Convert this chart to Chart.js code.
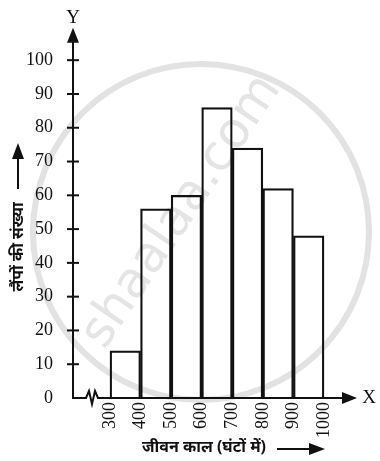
<!DOCTYPE html>
<html>
<head>
<meta charset="utf-8">
<script src="https://cdn.jsdelivr.net/npm/chart.js@4"></script>
<style>
  html, body { margin: 0; padding: 0; background: #ffffff; }
  #wrap { width: 380px; height: 461px; position: relative; }
</style>
</head>
<body>
<div id="wrap"><canvas id="c" width="380" height="461"></canvas></div>
<script>
// ---- data ----
const binEdges = [300, 400, 500, 600, 700, 800, 900, 1000];
const lampCounts = [14, 56, 60, 86, 74, 62, 48];
const xTickLabels = ['300', '400', '500', '600', '700', '800', '900', '1000'];
const yTickValues = [0, 10, 20, 30, 40, 50, 60, 70, 80, 90, 100];
const xAxisTitle = 'जीवन काल (घंटों में)';
const yAxisTitle = 'लैंपों की संख्या';
const watermarkText = 'shaalaa.com';

const barPoints = lampCounts.map((v, i) => ({ x: (binEdges[i] + binEdges[i + 1]) / 2, y: v }));

const SERIF = "'Liberation Serif', 'DejaVu Serif', serif";
const HINDI = "'Noto Sans', 'DejaVu Sans', sans-serif";

function arrowHead(ctx, tipX, tipY, dir, len, half) {
  ctx.beginPath();
  if (dir === 'up') {
    ctx.moveTo(tipX, tipY); ctx.lineTo(tipX - half, tipY + len); ctx.lineTo(tipX + half, tipY + len);
  } else {
    ctx.moveTo(tipX, tipY); ctx.lineTo(tipX - len, tipY - half); ctx.lineTo(tipX - len, tipY + half);
  }
  ctx.closePath();
  ctx.fill();
}

const decorPlugin = {
  id: 'decor',
  beforeDraw(chart) {
    const ctx = chart.ctx;
    ctx.save();
    // watermark
    ctx.strokeStyle = '#e2e2e2';
    ctx.lineWidth = 6;
    ctx.beginPath();
    ctx.arc(201, 232, 168, 0, Math.PI * 2);
    ctx.stroke();
    ctx.translate(182, 212);
    ctx.rotate(-56 * Math.PI / 180);
    ctx.fillStyle = '#e4e4e4';
    ctx.font = "50px 'DejaVu Sans', sans-serif";
    ctx.textAlign = 'center';
    ctx.textBaseline = 'middle';
    ctx.fillText(watermarkText, 0, 0);
    ctx.restore();
  },
  afterDatasetsDraw(chart) {
    const ctx = chart.ctx;
    const xs = chart.scales.x, ys = chart.scales.y;
    const ox = xs.left, oy = ys.getPixelForValue(0);
    const topY = ys.top, rightX = xs.right;
    ctx.save();
    ctx.strokeStyle = '#111';
    ctx.fillStyle = '#111';
    ctx.lineWidth = 2;
    // y axis
    ctx.beginPath();
    ctx.moveTo(ox, oy + 1);
    ctx.lineTo(ox, topY + 10);
    ctx.stroke();
    arrowHead(ctx, ox, topY - 3, 'up', 15, 6);
    // y ticks crossing axis
    yTickValues.forEach(v => {
      if (v === 0) return;
      const py = ys.getPixelForValue(v);
      ctx.beginPath();
      ctx.moveTo(ox - 6, py); ctx.lineTo(ox + 6, py);
      ctx.stroke();
    });
    // x axis with zigzag break
    ctx.beginPath();
    ctx.moveTo(ox - 1, oy);
    ctx.lineTo(ox + 13, oy);
    ctx.lineTo(ox + 16, oy - 7);
    ctx.lineTo(ox + 19, oy + 6);
    ctx.lineTo(ox + 22, oy - 7);
    ctx.lineTo(ox + 25, oy);
    ctx.lineTo(rightX - 10, oy);
    ctx.stroke();
    arrowHead(ctx, rightX, oy, 'right', 15, 6);
    // axis letters
    ctx.font = '19px ' + SERIF;
    ctx.textAlign = 'center';
    ctx.textBaseline = 'middle';
    ctx.fillText('Y', ox, topY - 13);
    ctx.fillText('X', rightX + 12, oy);
    // x title with arrow
    ctx.font = 'bold 16px ' + HINDI;
    ctx.textAlign = 'left';
    ctx.fillText(xAxisTitle, 142, 447);
    ctx.lineWidth = 2;
    ctx.beginPath(); ctx.moveTo(277, 449); ctx.lineTo(310, 449); ctx.stroke();
    arrowHead(ctx, 325, 449, 'right', 16, 6);
    // y title with arrow
    ctx.save();
    ctx.translate(18, 247);
    ctx.rotate(-Math.PI / 2);
    ctx.textAlign = 'center';
    ctx.fillText(yAxisTitle, 0, 0);
    ctx.restore();
    ctx.beginPath(); ctx.moveTo(18, 189); ctx.lineTo(18, 157); ctx.stroke();
    arrowHead(ctx, 18, 143, 'up', 16, 6);
    ctx.restore();
  }
};

new Chart(document.getElementById('c'), {
  type: 'bar',
  data: {
    datasets: [{
      data: barPoints,
      backgroundColor: 'rgba(255,255,255,0)',
      borderColor: '#111',
      borderWidth: 1.6,
      barPercentage: 1,
      categoryPercentage: 1
    }]
  },
  options: {
    responsive: false,
    animation: false,
    events: [],
    layout: { padding: { top: 25, right: 23, left: 0, bottom: 0 } },
    plugins: { legend: { display: false }, tooltip: { enabled: false }, title: { display: false } },
    scales: {
      x: {
        type: 'linear',
        offset: false,
        min: 179,
        max: 1108,
        border: { display: false },
        grid: { display: false, drawTicks: false },
        afterBuildTicks(scale) { scale.ticks = binEdges.map(v => ({ value: v })); },
        afterFit(scale) { scale.height = 63; },
        ticks: {
          autoSkip: false,
          minRotation: 90,
          maxRotation: 90,
          padding: 4,
          color: '#111',
          font: { family: SERIF, size: 18 },
          callback(value) { const i = binEdges.indexOf(value); return i >= 0 ? xTickLabels[i] : ''; }
        }
      },
      y: {
        min: 0,
        max: 108.7,
        border: { display: false },
        grid: { display: false, drawTicks: false },
        afterBuildTicks(scale) { scale.ticks = yTickValues.map(v => ({ value: v })); },
        afterFit(scale) { scale.width = 73; },
        ticks: {
          padding: 20,
          color: '#111',
          font: { family: SERIF, size: 18 }
        }
      }
    }
  },
  plugins: [decorPlugin]
});
</script>
</body>
</html>
